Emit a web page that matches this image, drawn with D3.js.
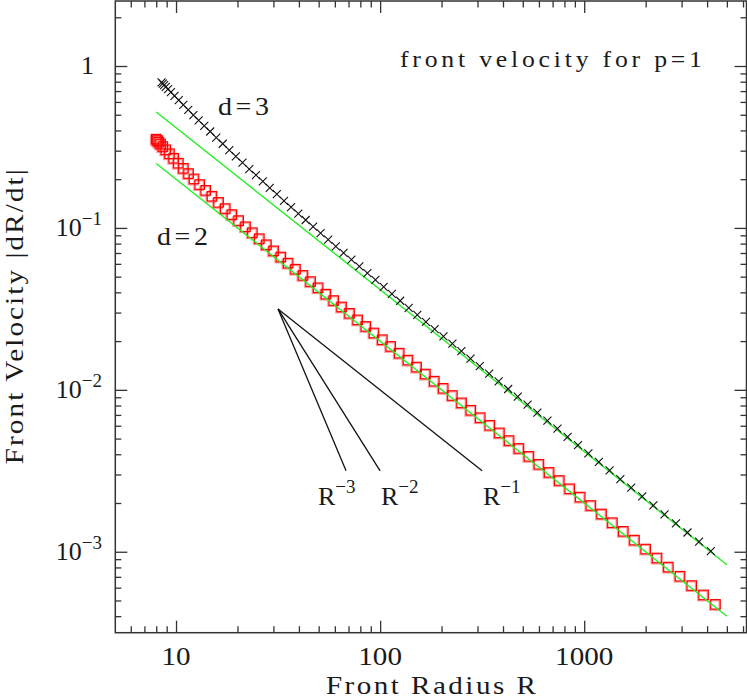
<!DOCTYPE html>
<html>
<head>
<meta charset="UTF-8">
<title>front velocity for p=1</title>
<style>
  body { margin: 0; background: #fff; }
  svg text { font-family: "Liberation Serif", "DejaVu Serif", serif; fill: #1a1a1a; }
  .tick line { stroke: #333; stroke-width: 1.3px; }
</style>
</head>
<body>
<svg width="747" height="696"></svg>
<script src="https://d3js.org/d3.v7.min.js"></script>
<script>

    // d=3 run (crosses)
    var crossR = [8.49, 8.61, 8.74, 8.91, 9.14, 9.44, 9.83, 10.31, 10.86, 11.48,
        12.16, 12.91, 13.75, 14.70, 15.74, 16.94, 18.24, 19.64, 21.17, 22.84,
        24.65, 26.62, 28.79, 31.18, 33.80, 36.62, 39.74, 43.17, 46.96, 51.06,
        55.66, 60.67, 66.21, 72.32, 79.10, 86.60, 94.83, 104.1, 114.2, 125.4,
        138.1, 152.1, 167.6, 185.0, 204.3, 226.0, 250.2, 277.3, 307.8, 342.3,
        380.7, 423.9, 472.5, 527.8, 589.6, 660.3, 739.3, 829.4, 931.9, 1048,
        1180, 1332, 1503, 1700, 1925, 2182, 2475, 2815, 3206, 3655, 4172];
    var crossV = [0.792, 0.778, 0.762, 0.743, 0.719, 0.689, 0.653, 0.615, 0.575, 0.536,
        0.498, 0.462, 0.427, 0.394, 0.361, 0.331, 0.302, 0.277, 0.253, 0.231,
        0.212, 0.194, 0.177, 0.1615, 0.147, 0.1345, 0.1227, 0.1119, 0.102, 0.0930,
        0.0846, 0.0770, 0.0701, 0.0637, 0.0579, 0.0525, 0.0477, 0.0432, 0.0392, 0.0355,
        0.0321, 0.02905, 0.02625, 0.0237, 0.02138, 0.01927, 0.01736, 0.01561, 0.01403, 0.01259,
        0.01129, 0.01012, 0.00907, 0.00810, 0.00724, 0.00645, 0.00576, 0.00513, 0.00456, 0.00405,
        0.00359, 0.00318, 0.00281, 0.00249, 0.002196, 0.001935, 0.001704, 0.001498, 0.001315, 0.001153, 0.00101];

    // d=2 run (squares)
    var squareR = [8.00, 8.11, 8.24, 8.40, 8.62, 8.91, 9.29, 9.74, 10.27, 10.87,
        11.52, 12.25, 13.06, 13.98, 15.00, 16.16, 17.43, 18.78, 20.27, 21.90,
        23.67, 25.60, 27.73, 30.07, 32.64, 35.43, 38.50, 41.89, 45.63, 49.69,
        54.26, 59.23, 64.73, 70.83, 77.60, 85.10, 93.33, 102.6, 112.7, 124.1,
        136.9, 150.9, 166.7, 184.3, 203.9, 226.0, 250.6, 278.3, 309.5, 344.8,
        384.3, 428.7, 478.8, 535.8, 600.0, 673.1, 755.3, 849.2, 956.1, 1078,
        1216, 1375, 1555, 1763, 2001, 2274, 2585, 2947, 3365, 3844, 4398];
    var squareV = [0.3535, 0.3465, 0.3388, 0.3297, 0.3181, 0.3039, 0.2872, 0.2693, 0.2511, 0.2334,
        0.2166, 0.2007, 0.1853, 0.1706, 0.1569, 0.1438, 0.1317, 0.1209, 0.1110, 0.1017,
        0.0934, 0.0858, 0.0787, 0.0722, 0.0661, 0.0606, 0.0556, 0.0509, 0.0466, 0.0427,
        0.0390, 0.0356, 0.0325, 0.02969, 0.02705, 0.02464, 0.02245, 0.02040, 0.01854, 0.01684,
        0.01526, 0.01382, 0.01252, 0.01131, 0.01022, 0.00922, 0.00831, 0.00748, 0.00673, 0.00604,
        0.00542, 0.00486, 0.004345, 0.003883, 0.003468, 0.00309, 0.002754, 0.002449, 0.002176, 0.00193,
        0.001711, 0.001512, 0.001337, 0.001180, 0.001039, 0.000915, 0.000804, 0.000706, 0.000618, 0.000541, 0.000473];

    // green fit lines
    var fitR = [8, 5000];
    var fitUpperV = [0.52, 0.000832];
    var fitLowerV = [0.25, 0.0004];

    // slope guide lines R^-3, R^-2, R^-1
    var guideOrigin = [31.6, 0.0316];
    var guideEndR = [68.1, 100, 316];
    var guideEndV = 0.00316;
    var guideExp = ["\u22123", "\u22122", "\u22121"];
    var guideLabelX = [318, 381, 483];

    var xMajor = [10, 100, 1000];
    var yMajor = [1, 0.1, 0.01, 0.001];
    var yExp = ["", "\u22121", "\u22122", "\u22123"];

    var svg = d3.select("svg"),
        plotL = 115.3, plotR = 746.5, plotT = 1, plotB = 632.7;

    var x = d3.scaleLog().domain([5.04, 6240]).range([plotL, plotR]);
    var y = d3.scaleLog().domain([Math.pow(10, -3.5), Math.pow(10, 0.4015)]).range([plotB, plotT]);

    var xMinor = x.ticks().filter(function(d) { return xMajor.indexOf(d) < 0; });
    var yMinor = y.ticks().filter(function(d) { return yMajor.indexOf(d) < 0; });

    function axisGroup(axis, tr) {
        var g = svg.append("g").attr("transform", tr).call(axis);
        g.select(".domain").remove();
        return g;
    }

    // wide, thin lettering: stretch glyphs a little, pad the rest with spacing
    var stretch = 1.12;
    function label(str, px, py, size, len, rot, anchor) {
        return svg.append("text")
            .attr("transform", "translate(" + px + "," + py + ")" + (rot ? " rotate(-90)" : "") +
                  " scale(" + stretch + ",1)")
            .attr("text-anchor", anchor || "start")
            .attr("font-size", size)
            .attr("textLength", len / stretch).attr("lengthAdjust", "spacing")
            .text(str);
    }

    // ticks on all four sides, pointing inwards
    axisGroup(d3.axisBottom(x).tickValues(xMinor).tickSize(-6.5).tickFormat(""), "translate(0," + plotB + ")");
    axisGroup(d3.axisBottom(x).tickValues(xMajor).tickSize(-12).tickFormat(""), "translate(0," + plotB + ")");
    axisGroup(d3.axisTop(x).tickValues(xMinor).tickSize(-6.5).tickFormat(""), "translate(0," + plotT + ")");
    axisGroup(d3.axisTop(x).tickValues(xMajor).tickSize(-12).tickFormat(""), "translate(0," + plotT + ")");
    axisGroup(d3.axisLeft(y).tickValues(yMinor).tickSize(-6).tickFormat(""), "translate(" + plotL + ",0)");
    axisGroup(d3.axisLeft(y).tickValues(yMajor).tickSize(-12).tickFormat(""), "translate(" + plotL + ",0)");
    axisGroup(d3.axisRight(y).tickValues(yMinor).tickSize(-6).tickFormat(""), "translate(" + plotR + ",0)");
    axisGroup(d3.axisRight(y).tickValues(yMajor).tickSize(-12).tickFormat(""), "translate(" + plotR + ",0)");

    svg.append("rect")
        .attr("x", plotL).attr("y", plotT)
        .attr("width", plotR - plotL).attr("height", plotB - plotT)
        .attr("fill", "none").attr("stroke", "#333").attr("stroke-width", 1.5);

    // tick labels
    svg.append("g").selectAll("text")
        .data(xMajor)
        .enter().append("text")
        .attr("transform", function(d) { return "translate(" + x(d) + ",665) scale(" + stretch + ",1)"; })
        .attr("text-anchor", "middle")
        .attr("font-size", 26)
        .text(function(d) { return d; });

    var ylab = svg.append("g").selectAll("text")
        .data(yMajor)
        .enter().append("text")
        .attr("x", function(d, i) { return i == 0 ? 94 : 102; })
        .attr("y", function(d) { return y(d) + 8; })
        .attr("text-anchor", "end")
        .attr("font-size", 26);
    ylab.append("tspan").text(function(d, i) { return i == 0 ? "1" : "10"; });
    ylab.append("tspan")
        .attr("dy", -11)
        .attr("font-size", 19)
        .text(function(d, i) { return yExp[i]; });

    // axis titles
    label("Front Radius R", (plotL + plotR) / 2, 694, 26, 210, false, "middle");
    label("Front Velocity |dR/dt|", 23, (plotT + plotB) / 2, 26, 295, true, "middle");

    // annotations
    label("front velocity for p=1", 400, 66.5, 23, 302);
    label("d=3", 218, 115, 25, 51);
    label("d=2", 157, 245, 25, 51);

    // slope guides
    svg.append("g").selectAll("line")
        .data(guideEndR)
        .enter().append("line")
        .attr("x1", x(guideOrigin[0])).attr("y1", y(guideOrigin[1]))
        .attr("x2", function(d) { return x(d); })
        .attr("y2", y(guideEndV))
        .attr("stroke", "#111").attr("stroke-width", 1.3);

    var glab = svg.append("g").selectAll("text")
        .data(guideExp)
        .enter().append("text")
        .attr("x", function(d, i) { return guideLabelX[i]; })
        .attr("y", 505)
        .attr("font-size", 26);
    glab.append("tspan").text("R");
    glab.append("tspan")
        .attr("dy", -12)
        .attr("font-size", 19)
        .text(function(d) { return d; });

    // d=2 squares
    var squares = d3.zip(squareR, squareV);
    var sq = 9.5;
    svg.append("g").selectAll("rect")
        .data(squares)
        .enter().append("rect")
        .attr("x", function(d) { return x(d[0]) - sq / 2 - 1; })
        .attr("y", function(d) { return y(d[1]) - sq / 2 + 1; })
        .attr("width", sq).attr("height", sq)
        .attr("fill", "none")
        .attr("stroke", "#ff6a6a").attr("stroke-width", 1.4).attr("stroke-opacity", 0.7);
    svg.append("g").selectAll("rect")
        .data(squares)
        .enter().append("rect")
        .attr("x", function(d) { return x(d[0]) - sq / 2; })
        .attr("y", function(d) { return y(d[1]) - sq / 2; })
        .attr("width", sq).attr("height", sq)
        .attr("fill", "none")
        .attr("stroke", "#ff0000").attr("stroke-width", 1.2);

    // fit lines
    var line = d3.line()
        .x(function(d) { return x(d[0]); })
        .y(function(d) { return y(d[1]); });

    svg.append("path")
        .datum(d3.zip(fitR, fitUpperV))
        .attr("d", line)
        .attr("fill", "none").attr("stroke", "#22ee22").attr("stroke-width", 1.4);
    svg.append("path")
        .datum(d3.zip(fitR, fitLowerV))
        .attr("d", line)
        .attr("fill", "none").attr("stroke", "#22ee22").attr("stroke-width", 1.4);

    // d=3 crosses
    var cs = 4;
    svg.append("g").selectAll("path")
        .data(d3.zip(crossR, crossV))
        .enter().append("path")
        .attr("d", function(d) {
            var cx = x(d[0]), cy = y(d[1]);
            return "M" + (cx - cs) + "," + (cy - cs) + "L" + (cx + cs) + "," + (cy + cs) +
                   "M" + (cx - cs) + "," + (cy + cs) + "L" + (cx + cs) + "," + (cy - cs);
        })
        .attr("fill", "none").attr("stroke", "#111").attr("stroke-width", 1.1);

</script>
</body>
</html>
